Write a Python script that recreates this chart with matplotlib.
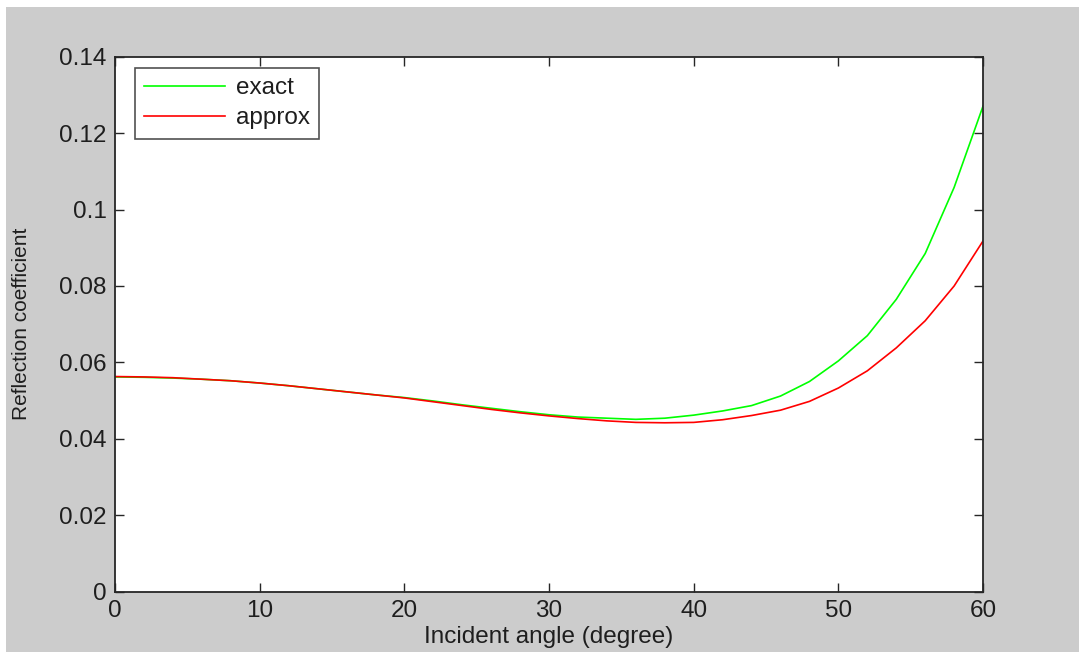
import numpy as np
import matplotlib.pyplot as plt
from matplotlib.patches import Rectangle
from matplotlib.ticker import FuncFormatter

# values
angle = [0, 2, 4, 6, 8, 10, 12, 14, 16, 18, 20, 22, 24, 26, 28, 30,
         32, 34, 36, 38, 40, 42, 44, 46, 48, 50, 52, 54, 56, 58, 60]
exact = [0.0562, 0.0561, 0.0559, 0.0556, 0.0552, 0.0546, 0.0539, 0.0531,
         0.0523, 0.0515, 0.0508, 0.0499, 0.0489, 0.0480, 0.0471, 0.0463,
         0.0457, 0.0454, 0.0451, 0.0454, 0.0462, 0.0473, 0.0487, 0.0512,
         0.0550, 0.0604, 0.0670, 0.0765, 0.0885, 0.1058, 0.1271]
approx = [0.0563, 0.0562, 0.0560, 0.0556, 0.0552, 0.0546, 0.0539, 0.0531,
          0.0523, 0.0515, 0.0507, 0.0497, 0.0487, 0.0477, 0.0468, 0.0460,
          0.0453, 0.0447, 0.0443, 0.0442, 0.0443, 0.0450, 0.0461, 0.0475,
          0.0498, 0.0533, 0.0578, 0.0638, 0.0709, 0.0800, 0.0918]

xticks = [0, 10, 20, 30, 40, 50, 60]
yticks = [0, 0.02, 0.04, 0.06, 0.08, 0.1, 0.12, 0.14]

plt.rcParams['font.family'] = ['Liberation Sans', 'DejaVu Sans']
txt = '#1e1e1e'
fs = 17.5

fig = plt.figure(figsize=(10.79, 6.6), dpi=100, facecolor='white')
# grey MATLAB-style background panel
fig.patches.append(Rectangle((6 / 1079, 8 / 660), 1 - 6 / 1079, 1 - 15 / 660,
                             transform=fig.transFigure, facecolor='#cccccc',
                             edgecolor='none', zorder=-10))

ax = fig.add_axes([0.1066, 0.1035, 0.8045, 0.8106])
ax.plot(angle, exact, color='#00ff00', lw=1.2, label='exact')
ax.plot(angle, approx, color='#ff0000', lw=1.2, label='approx')

ax.set_xlim(0, 60)
ax.set_ylim(0, 0.14)
ax.set_xticks(xticks)
ax.set_yticks(yticks)
ax.yaxis.set_major_formatter(FuncFormatter(lambda v, p: '%g' % v))
ax.tick_params(direction='in', length=6.5, width=1.0, top=True, right=True,
               labelsize=fs, labelcolor=txt, color='#262626', pad=6)
for s in ax.spines.values():
    s.set_linewidth(1.3)
    s.set_color('#262626')

ax.set_xlabel('Incident angle (degree)', fontsize=fs, color=txt, labelpad=3)
ax.set_ylabel('Reflection coefficient', fontsize=15, color=txt, labelpad=20)

leg = ax.legend(loc='upper left', fontsize=fs, frameon=True, fancybox=False,
                edgecolor='#262626', handlelength=3.3, handletextpad=0.45,
                borderaxespad=0.45, labelspacing=0.32, borderpad=0.4,
                bbox_to_anchor=(0.01, 1.0))
leg.get_frame().set_linewidth(1.2)
for t in leg.get_texts():
    t.set_color(txt)

fig.savefig('out.png', dpi=100, facecolor=fig.get_facecolor())
